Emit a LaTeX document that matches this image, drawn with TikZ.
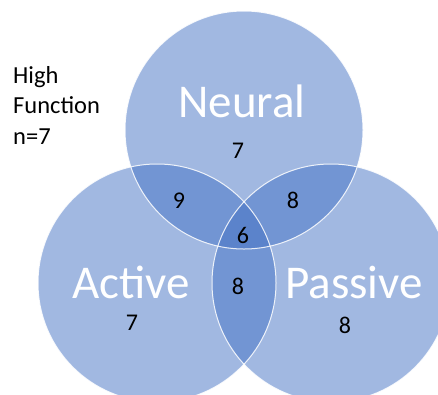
\documentclass[tikz,border=0pt]{standalone}
\usepackage{fontspec}
\setmainfont{Carlito}
\definecolor{vennblue}{HTML}{4472C4}
\begin{document}
\begin{tikzpicture}[x=1pt,y=-1pt,
  setcircle/.style={fill=vennblue,fill opacity=0.5,draw=none},
  setedge/.style={draw=white,line width=1pt,opacity=0.85},
  setname/.style={text=white,font=\fontsize{47}{56}\selectfont,anchor=base,inner sep=0pt},
  count/.style={text=black,font=\fontsize{24}{29}\selectfont,anchor=base,inner sep=0pt},
  note/.style={text=black,font=\fontsize{24.5}{30}\selectfont,anchor=base west,inner sep=0pt}]
  \useasboundingbox (0,0) rectangle (438,394);
  % the three sets
  \coordinate (cN) at (244,130);
  \coordinate (cA) at (157,283);
  \coordinate (cP) at (331,283);
  \fill[setcircle] (cN) circle[radius=119];
  \fill[setcircle] (cA) circle[radius=119];
  \fill[setcircle] (cP) circle[radius=119];
  \draw[setedge] (cN) circle[radius=119];
  \draw[setedge] (cA) circle[radius=119];
  \draw[setedge] (cP) circle[radius=119];
  % set names
  \node[setname] (neural) at (242,117) {Neural};
  \node[setname] (active) at (131,298) {Active};
  \node[setname] (passive) at (354,298) {Passive};
  % region counts
  \node[count] (nOnly) at (238,158) {7};
  \node[count] (nA) at (179,208) {9};
  \node[count] (nP) at (293,208) {8};
  \node[count] (nAP) at (243,243) {6};
  \node[count] (aP) at (238,294) {8};
  \node[count] (aOnly) at (132,330) {7};
  \node[count] (pOnly) at (345,333) {8};
  % group label
  \node[note] (l1) at (13,83) {High};
  \node[note] (l2) at (13,113) {Function};
  \node[note] (l3) at (13,144) {n=7};
\end{tikzpicture}
\end{document}
